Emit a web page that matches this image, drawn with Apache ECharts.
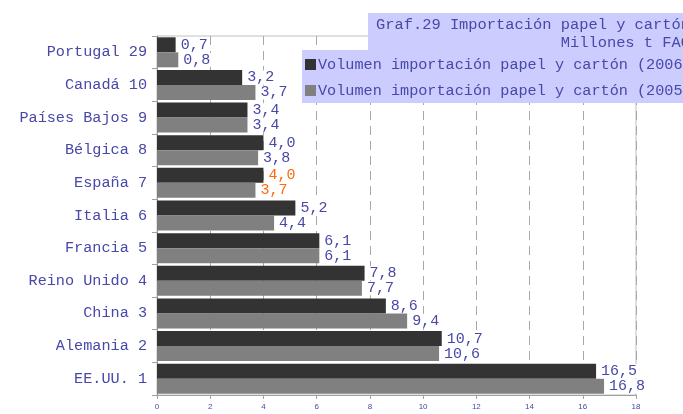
<!DOCTYPE html>
<html>
<head>
    <meta charset="utf-8">
    <title>Graf.29</title>
    <script src="https://cdn.jsdelivr.net/npm/echarts@6/dist/echarts.min.js"></script>
    <style>
        html, body { margin: 0; padding: 0; background: #fff; }
        #chart { width: 683px; height: 414px; }
    </style>
</head>
<body>
    <div id="chart"></div>
    <script>
        var paises = ['Portugal 29', 'Canadá 10', 'Países Bajos 9', 'Bélgica 8', 'España 7', 'Italia 6',
            'Francia 5', 'Reino Unido 4', 'China 3', 'Alemania 2', 'EE.UU. 1'];
        var vol2006 = [0.7, 3.2, 3.4, 4.0, 4.0, 5.2, 6.1, 7.8, 8.6, 10.7, 16.5];
        var vol2005 = [0.8, 3.7, 3.4, 3.8, 3.7, 4.4, 6.1, 7.7, 9.4, 10.6, 16.8];
        var nombres = ['Volumen importación papel y cartón (2006)', 'Volumen importación papel y cartón (2005)'];

        var mono = 'Liberation Mono';
        var azul = '#4848a8';

        // España va resaltada en naranja
        function etiqueta(p) {
            var t = p.value.toFixed(1).replace('.', ',');
            return p.name === 'España 7' ? '{o|' + t + '}' : t;
        }
        var labelCfg = {
            show: true,
            position: 'right',
            distance: 4,
            fontFamily: mono,
            fontSize: 15,
            lineHeight: 14,
            padding: [0, 1],
            backgroundColor: '#fff',
            color: azul,
            formatter: etiqueta,
            rich: { o: { fontFamily: mono, fontSize: 15, lineHeight: 14, color: '#ff6a10' } }
        };

        var myChart = echarts.init(document.getElementById('chart'));
        myChart.setOption({
            animation: false,
            title: {
                text: 'Graf.29 Importación papel y cartón\n                    Millones t FAO',
                left: 368,
                top: 13,
                padding: [3, 8, 2, 8],
                backgroundColor: '#ccccff',
                textStyle: { fontFamily: mono, fontSize: 15.4, fontWeight: 'normal', color: azul, lineHeight: 18 }
            },
            legend: {
                orient: 'vertical',
                left: 302,
                top: 50,
                padding: [7, 4, 5, 3],
                itemGap: 11,
                itemWidth: 11,
                itemHeight: 11,
                icon: 'rect',
                backgroundColor: '#ccccff',
                textStyle: { fontFamily: mono, fontSize: 15.2, color: azul, padding: [0, 0, 0, -3] },
                data: nombres
            },
            grid: {
                left: 157,
                right: 47,
                top: 36,
                bottom: 19,
                show: true,
                borderColor: '#c0c0c0',
                borderWidth: 1
            },
            xAxis: {
                type: 'value',
                min: 0,
                max: 18,
                interval: 2,
                axisLine: { show: true, lineStyle: { color: '#a0a0a0' } },
                axisTick: { show: true, length: 4, lineStyle: { color: '#a0a0a0' } },
                axisLabel: { fontSize: 8, color: azul, margin: 8 },
                splitLine: { show: true, lineStyle: { color: '#a8a8a8', type: [9, 6] } }
            },
            yAxis: {
                type: 'category',
                inverse: true,
                data: paises,
                axisLine: { show: true, lineStyle: { color: '#a0a0a0' } },
                axisTick: { show: true, length: 5, lineStyle: { color: '#a0a0a0' } },
                axisLabel: { fontFamily: mono, fontSize: 15.2, color: azul, margin: 10 }
            },
            series: [
                {
                    name: nombres[0],
                    type: 'bar',
                    data: vol2006,
                    barWidth: 15,
                    barGap: '0%',
                    itemStyle: { color: '#333333' },
                    label: labelCfg
                },
                {
                    name: nombres[1],
                    type: 'bar',
                    data: vol2005,
                    barWidth: 15,
                    barGap: '0%',
                    itemStyle: { color: '#808080' },
                    label: labelCfg
                }
            ]
        });
    </script>
</body>
</html>
